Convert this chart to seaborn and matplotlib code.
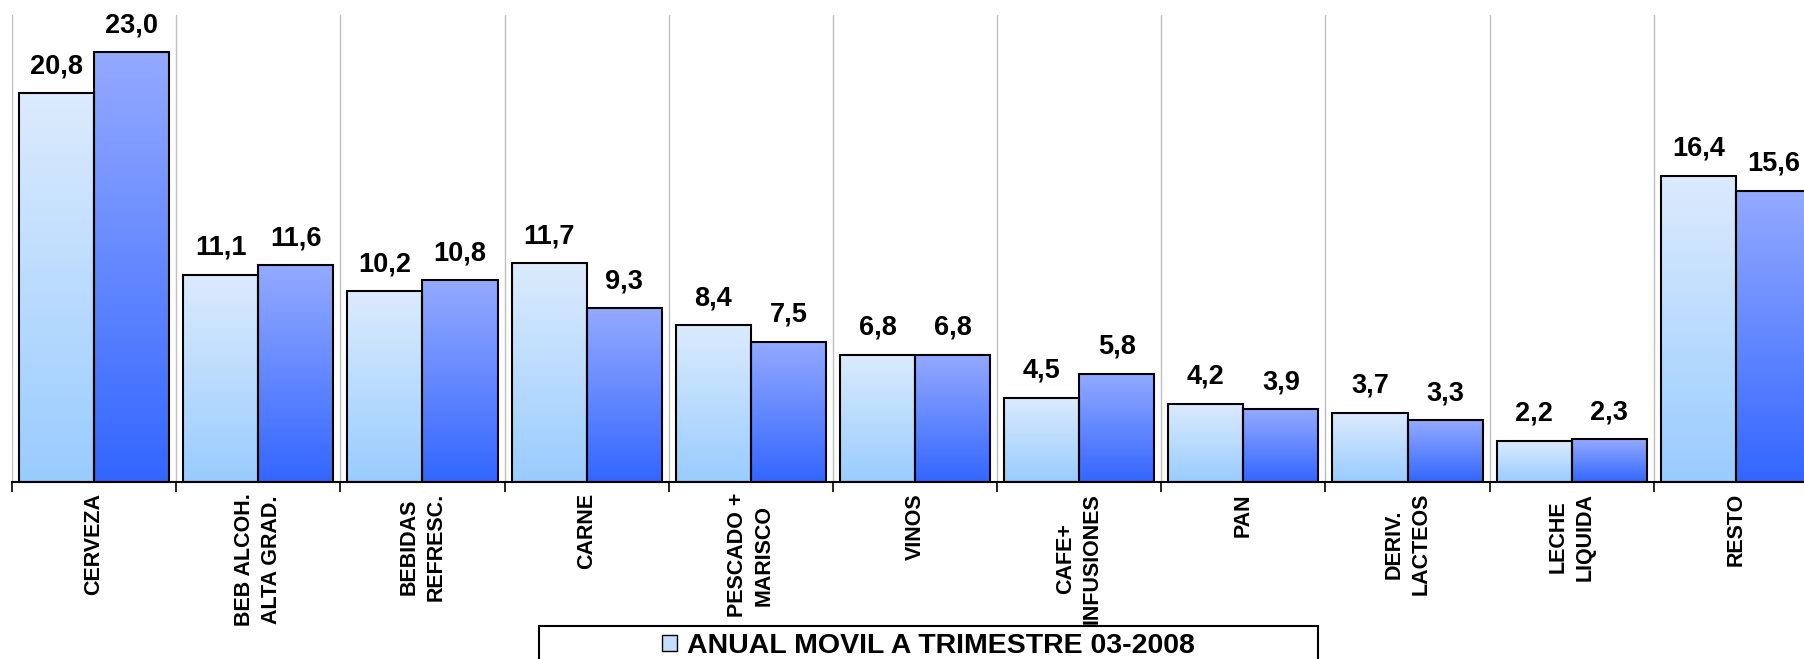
import numpy as np
import pandas as pd
import seaborn as sns
import matplotlib
matplotlib.use("Agg")
import matplotlib.pyplot as plt
from matplotlib.colors import to_rgb
from matplotlib.patches import Rectangle

categorias = ["CERVEZA", "BEB ALCOH.\nALTA GRAD.", "BEBIDAS\nREFRESC.", "CARNE",
              "PESCADO +\nMARISCO", "VINOS", "CAFE+\nINFUSIONES", "PAN",
              "DERIV.\nLACTEOS", "LECHE\nLIQUIDA", "RESTO"]
serie_2008 = [20.8, 11.1, 10.2, 11.7, 8.4, 6.8, 4.5, 4.2, 3.7, 2.2, 16.4]
serie_b = [23.0, 11.6, 10.8, 9.3, 7.5, 6.8, 5.8, 3.9, 3.3, 2.3, 15.6]
series = ["ANUAL MOVIL A TRIMESTRE 03-2008", "SERIE B"]

# gradient colours (top, bottom) per series
gradientes = [("#DCEBFD", "#99CCFF"), ("#94AAFF", "#3366FF")]

df = pd.DataFrame({
    "categoria": categorias * 2,
    "serie": [series[0]] * len(categorias) + [series[1]] * len(categorias),
    "valor": serie_2008 + serie_b,
})

sns.set_theme(style="white")
plt.rcParams["font.family"] = ["Liberation Sans", "DejaVu Sans"]
plt.rcParams["text.color"] = "black"
plt.rcParams["xtick.color"] = "black"

W, H = 1804, 659
fig = plt.figure(figsize=(W / 100, H / 100), dpi=100)
ax = fig.add_axes([12 / W, 177 / H, 1806 / W, 467 / H])

sns.barplot(data=df, x="categoria", y="valor", hue="serie", order=categorias,
            hue_order=series, width=0.915, errorbar=None, saturation=1,
            edgecolor="black", linewidth=1.5, legend=False, ax=ax)

# gradient fill clipped to each bar
for cont, (c_top, c_bot) in zip(ax.containers, gradientes):
    top = np.array(to_rgb(c_top))
    bot = np.array(to_rgb(c_bot))
    t = np.linspace(0, 1, 256)[:, None, None]
    grad = top * (1 - t) + bot * t
    for bar in cont:
        x0 = bar.get_x()
        w = bar.get_width()
        h = bar.get_height()
        im = ax.imshow(grad, extent=[x0, x0 + w, 0, h], origin="upper",
                       aspect="auto", zorder=1.5, interpolation="bilinear")
        im.set_clip_path(bar)
        bar.set_facecolor("none")
        bar.set_zorder(2)

# value labels with decimal comma
for cont in ax.containers:
    for bar in cont:
        v = bar.get_height()
        ax.annotate(f"{v:.1f}".replace(".", ","),
                    (bar.get_x() + bar.get_width() / 2, v),
                    xytext=(0, 14.4), textcoords="offset points",
                    ha="center", va="baseline", fontsize=19.5,
                    fontweight="bold", color="black")

ax.set_xlim(-0.5, len(categorias) - 0.5)
ax.set_ylim(0, 25)
ax.set_yticks([])
ax.set_xlabel("")
ax.set_ylabel("")
ax.set_xticks(np.arange(-0.5, len(categorias), 1), minor=True)
ax.tick_params(axis="x", which="minor", bottom=True, length=7, width=1.2,
               color="black", direction="out")
ax.tick_params(axis="x", which="major", bottom=True, length=0, pad=8)
ax.xaxis.grid(True, which="minor", color="#BFBFBF", linewidth=1)
ax.yaxis.grid(False)
ax.set_axisbelow(True)
ax.set_xticks(range(len(categorias)))
ax.set_xticklabels(categorias, rotation=90, fontsize=15.5, fontweight="bold",
                   color="black", ha="center", va="top",
                   multialignment="center", linespacing=1.35)
for s in ["left", "right", "top"]:
    ax.spines[s].set_visible(False)
ax.spines["bottom"].set_color("black")
ax.spines["bottom"].set_linewidth(1.5)

# legend (box partly outside the figure, as in the original)
handle = Rectangle((0, 0), 1, 1, facecolor="#C2DFFE", edgecolor="black", linewidth=1)
leg = fig.legend(handles=[handle], labels=[series[0]], loc="lower center",
                 bbox_to_anchor=(928 / W, 0), frameon=False,
                 prop={"size": 20.5, "weight": "bold"}, handlelength=0.53,
                 handleheight=0.53, handletextpad=0.35, borderpad=0,
                 borderaxespad=0)
for txt in leg.get_texts():
    txt.set_color("black")
fig.add_artist(Rectangle((539 / W, -0.05), 779 / W, 0.05 + 33 / H,
                         transform=fig.transFigure, fill=False,
                         edgecolor="black", linewidth=1.5))

fig.savefig("out.png", dpi=100)
